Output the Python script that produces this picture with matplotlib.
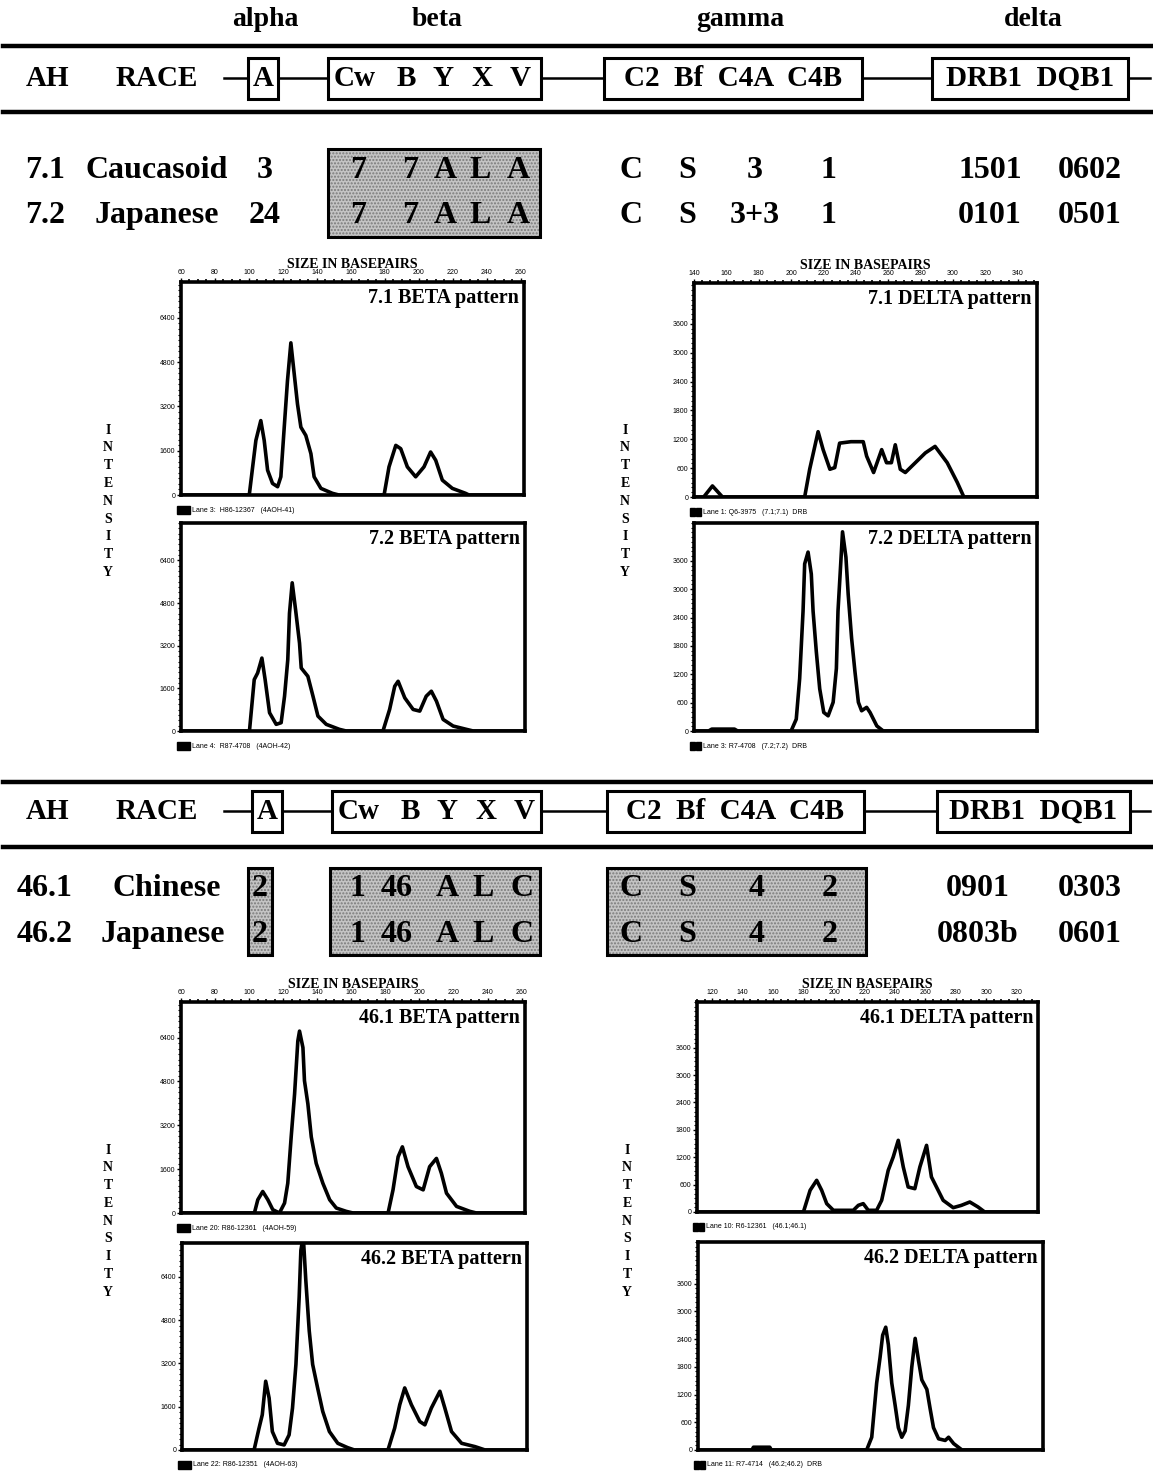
import numpy as np
import matplotlib.pyplot as plt
from matplotlib.patches import Rectangle
from matplotlib.ticker import MultipleLocator

plt.rcParams['font.family'] = ['Liberation Serif', 'DejaVu Serif']
plt.rcParams['font.weight'] = 'bold'

W, H = 1153, 1474

# ---------------- electropherogram traces (size in bp, intensity) ----------------
beta71_bp = [60, 100.2, 102.2, 104.1, 107, 109, 111, 113.9, 116.9, 118.8, 120.8, 122.7, 124.7,
             126.7, 128.6, 130.6, 133.5, 136.5, 138.4, 142.4, 149.2, 153, 179.6, 182.5, 186.5,
             189.4, 193.3, 198.2, 203.1, 207, 210, 213.9, 219.8, 227.6, 229.6, 262]
beta71_int = [0, 0, 1017, 1973, 2690, 1973, 897, 418, 299, 658, 2452, 4126, 5500,
              4365, 3289, 2452, 2153, 1495, 658, 239, 60, 0, 0, 1017, 1794,
              1674, 1017, 658, 1017, 1555, 1256, 538, 239, 60, 0, 0]

beta72_bp = [60, 100.2, 103, 105, 107.5, 109.4, 112, 115.9, 118.8, 120.8, 122.7, 123.7, 125.3,
             127.3, 129.6, 130.6, 134.5, 137.5, 140.4, 145.3, 153, 157, 178.6, 182.5, 185.5,
             187.5, 191.4, 196.3, 200.2, 204, 207, 210, 213.9, 219.8, 227.6, 231.6, 262]
beta72_int = [0, 0, 1927, 2175, 2735, 1927, 684, 249, 311, 1305, 2672, 4413, 5556,
              4537, 3294, 2362, 2051, 1305, 560, 249, 62, 0, 0, 808, 1678,
              1865, 1243, 808, 746, 1305, 1492, 1119, 435, 186, 62, 0, 0]

delta71_bp = [140, 146, 151.4, 157.6, 208.4, 211.5, 216.7, 219.8, 224, 227, 230, 237, 244.6,
              246.7, 251, 256, 259, 262, 264.4, 267.5, 270.6, 276.8, 283, 289, 296.5,
              302.7, 306.8, 352]
delta71_int = [0, 0, 230, 0, 0, 577, 1358, 985, 577, 611, 1120, 1150, 1150,
               850, 509, 985, 713, 713, 1086, 577, 509, 713, 917, 1052, 713,
               305, 0, 0]

delta72_bp = [140, 149, 151, 165, 167, 200, 203.2, 205.3, 207.4, 208.4, 210.5, 212.5, 213.6,
              215.6, 217.7, 220.2, 222.9, 226, 228, 229, 230.2, 231.8, 233.9, 235.3, 237.4,
              239.5, 241.6, 243.6, 246.7, 248.8, 253, 257, 352]
delta72_int = [0, 0, 40, 40, 0, 0, 250, 1107, 2535, 3535, 3785, 3320, 2535,
               1678, 893, 393, 321, 607, 1321, 2535, 3250, 4213, 3677, 2892, 1964,
               1250, 607, 428, 500, 393, 107, 0, 0]

beta461_bp = [60, 103.1, 105.1, 108, 111, 113.9, 117.8, 120.8, 122.7, 124.7, 126.7, 128.6, 129.6,
              131.6, 132.5, 134.5, 136.5, 139.4, 143.3, 147.3, 151.2, 157, 161, 181.6, 184.5,
              187.5, 190, 193.3, 198.2, 202.2, 206, 210, 212.9, 215.9, 221.8, 229.6, 233.5, 262]
beta461_int = [0, 0, 483, 785, 483, 121, 0, 362, 1086, 2776, 4345, 6276, 6638,
               6035, 4828, 3983, 2776, 1810, 1086, 483, 181, 60, 0, 0, 845,
               2052, 2414, 1690, 966, 845, 1690, 1992, 1448, 724, 241, 60, 0, 0]

beta462_bp = [60, 102.2, 105.1, 107, 109, 111, 112.9, 115.9, 119.8, 122.7, 124.7, 126.7, 128.6,
              129.6, 131, 132.5, 134.5, 136.5, 139.4, 142.4, 146.3, 151.2, 157, 161, 180.6,
              184.5, 187.5, 190.4, 194.3, 199.2, 202.2, 206, 211, 213.9, 217.8, 223.7, 231.6,
              237.5, 262]
beta462_int = [0, 0, 806, 1302, 2542, 1922, 682, 248, 186, 558, 1550, 3162, 5642,
               7378, 7900, 6262, 4402, 3162, 2294, 1426, 682, 248, 87, 0, 0,
               806, 1674, 2294, 1674, 1054, 930, 1550, 2170, 1550, 682, 248, 124,
               0, 0]

delta461_bp = [110, 179.9, 184.3, 188.6, 191.9, 195.2, 199.6, 212.7, 216, 219.2, 222.5, 228,
               231.3, 235.6, 238.9, 242.2, 245.5, 248.7, 253.1, 256.4, 260.8, 264, 267.3,
               271.7, 278.3, 283.7, 289.2, 294.6, 299, 334]
delta461_int = [0, 0, 475, 694, 475, 183, 37, 37, 146, 183, 37, 37,
                256, 912, 1205, 1570, 986, 548, 511, 986, 1460, 767, 548,
                256, 95, 146, 219, 110, 0, 0]

delta462_bp = [110, 145, 146, 156.6, 157.6, 219.5, 222.8, 226, 228.2, 229.9, 231.9, 233.6, 235.8,
               238, 240.1, 242.3, 244.5, 246.6, 248.8, 251, 253.2, 255.3, 258.6, 260.7, 262.9,
               266.2, 270.5, 272.7, 276, 281.4, 334]
delta462_int = [0, 0, 60, 60, 0, 0, 276, 1449, 2000, 2484, 2657, 2277, 1449,
                966, 483, 276, 414, 966, 1794, 2415, 1932, 1518, 1311, 897, 483,
                242, 207, 276, 138, 0, 0]

beta_ticks = [0, 1600, 3200, 4800, 6400]
delta_ticks = [0, 600, 1200, 1800, 2400, 3000, 3600]
beta_genes = ['Cw', 'B', 'Y', 'X', 'V']

fig = plt.figure(figsize=(W / 100, H / 100), dpi=100)
ax0 = fig.add_axes([0, 0, 1, 1])
ax0.set_xlim(0, W)
ax0.set_ylim(H, 0)
ax0.axis('off')


def txt(x, y, s, size, **kw):
    ax0.text(x, y, s, fontsize=size, fontweight='bold', ha='center', va='center', **kw)


def box(x0, y0, x1, y1, shaded=False, lw=2.2):
    if shaded:
        ax0.add_patch(Rectangle((x0, y0), x1 - x0, y1 - y0, facecolor='#c4c4c4', edgecolor='none'))
        ax0.add_patch(Rectangle((x0, y0), x1 - x0, y1 - y0, facecolor='none', edgecolor='#7a7a7a',
                                hatch='.....', lw=0))
    ax0.add_patch(Rectangle((x0, y0), x1 - x0, y1 - y0, facecolor='none', edgecolor='k', lw=lw))


def header(y_top, y_mid, y_bot, boxes):
    ax0.plot([3, 1153], [y_top, y_top], color='k', lw=3.2)
    ax0.plot([3, 1153], [y_bot, y_bot], color='k', lw=3.2)
    txt(48, y_mid, 'AH', 21)
    txt(157, y_mid, 'RACE', 21)
    xs = [224]
    for (x0, x1, label) in boxes:
        box(x0, y_mid - 20, x1, y_mid + 21)
        if isinstance(label, list):
            for dx, s in zip([27, 78, 115, 154, 192], label):
                txt(x0 + dx, y_mid, s, 21)
        else:
            txt((x0 + x1) / 2, y_mid, label, 21)
        xs += [x0, x1]
    xs.append(1150)
    for i in range(0, len(xs), 2):
        ax0.plot([xs[i], xs[i + 1]], [y_mid, y_mid], color='k', lw=1.8)


# ---------------- top header ----------------
for x, s in [(265, 'alpha'), (437, 'beta'), (740, 'gamma'), (1033, 'delta')]:
    txt(x, 19, s, 20)

header(46, 78, 112, [(248, 278, 'A'), (328, 541, beta_genes),
                     (604, 862, 'C2  Bf  C4A  C4B'), (932, 1128, 'DRB1  DQB1')])

box(328, 149, 540, 237, shaded=True)
for y, ah, race, a, bvals, gvals, dvals in [
        (170, '7.1', 'Caucasoid', '3', ['7', '7', 'A', 'L', 'A'], ['C', 'S', '3', '1'], ['1501', '0602']),
        (215, '7.2', 'Japanese', '24', ['7', '7', 'A', 'L', 'A'], ['C', 'S', '3+3', '1'], ['0101', '0501'])]:
    txt(45, y, ah, 23)
    txt(157, y, race, 23)
    txt(265, y, a, 23)
    for x, s in zip([358, 410, 445, 480, 518], bvals):
        txt(x, y, s, 23)
    for x, s in zip([631, 687, 755, 828], gvals):
        txt(x, y, s, 23)
    for x, s in zip([990, 1090], dvals):
        txt(x, y, s, 23)

# ---------------- bottom header ----------------
header(782, 811, 847, [(252, 282, 'A'), (332, 541, beta_genes),
                       (607, 864, 'C2  Bf  C4A  C4B'), (937, 1130, 'DRB1  DQB1')])

box(248, 868, 272, 955, shaded=True)
box(330, 868, 540, 955, shaded=True)
box(607, 868, 866, 955, shaded=True)
for y, ah, race, a, bvals, gvals, dvals in [
        (888, '46.1', 'Chinese', '2', ['1', '46', 'A', 'L', 'C'], ['C', 'S', '4', '2'], ['0901', '0303']),
        (934, '46.2', 'Japanese', '2', ['1', '46', 'A', 'L', 'C'], ['C', 'S', '4', '2'], ['0803b', '0601'])]:
    txt(45, y, ah, 23)
    txt(167 if race == 'Chinese' else 163, y, race, 23)
    txt(260, y, a, 23)
    for x, s in zip([357, 397, 447, 483, 522], bvals):
        txt(x, y, s, 23)
    for x, s in zip([631, 687, 757, 830], gvals):
        txt(x, y, s, 23)
    for x, s in zip([978, 1090], dvals):
        txt(x, y, s, 23)

# INTENSITY labels
for x0, y0 in [(108, 430), (625, 430), (108, 1150), (627, 1150)]:
    for i, ch in enumerate('INTENSITY'):
        txt(x0, y0 + i * 17.8, ch, 10)


def panel(box_px, bp, inten, title, caption, xlim, ylim, yticks, ystep, top_ticks, lanebox):
    l, t, r, b = box_px
    ax = fig.add_axes([l / W, 1 - b / H, (r - l) / W, (b - t) / H])
    ax.plot(bp, inten, color='k', lw=2.6, clip_on=True, solid_joinstyle='round')
    ax.set_xlim(*xlim)
    ax.set_ylim(*ylim)
    for sp in ax.spines.values():
        sp.set_linewidth(2.6)
    ax.set_yticks(yticks)
    ax.set_yticklabels([str(v) for v in yticks])
    ax.yaxis.set_minor_locator(MultipleLocator(ystep))
    ax.tick_params(axis='y', which='major', length=3, width=1, labelsize=5, pad=1)
    ax.tick_params(axis='y', which='minor', length=2, width=0.8)
    if top_ticks is not None:
        ax.xaxis.tick_top()
        ax.set_xticks(top_ticks)
        ax.set_xticklabels([str(v) for v in top_ticks])
        ax.xaxis.set_minor_locator(MultipleLocator(5))
        ax.tick_params(axis='x', which='major', length=3, width=1, labelsize=5, pad=1)
        ax.tick_params(axis='x', which='minor', length=2, width=1.2)
        ax.xaxis.set_label_position('top')
        ax.set_xlabel('SIZE IN BASEPAIRS', fontsize=10, fontweight='bold', labelpad=1)
    else:
        ax.set_xticks([])
    for lab in ax.get_xticklabels() + ax.get_yticklabels():
        lab.set_family('Liberation Sans')
        lab.set_fontweight('normal')
    ax.text(1 - 5 / (r - l), 1 - 6 / (b - t), title, transform=ax.transAxes, ha='right', va='top',
            fontsize=14.5, fontweight='bold')
    yc = b + 15
    if lanebox == 1:
        ax0.add_patch(Rectangle((l - 4, yc - 4), 13, 8, color='k'))
        cx = l + 11
    else:
        ax0.add_patch(Rectangle((l - 4, yc - 4), 5, 8, color='k'))
        ax0.add_patch(Rectangle((l + 2, yc - 4), 5, 8, color='k'))
        cx = l + 9
    ax0.text(cx, yc, caption, fontsize=5, family='Liberation Sans', fontweight='normal',
             ha='left', va='center')
    return ax


beta_top = list(range(60, 261, 20))
panel((181, 282, 524, 495), beta71_bp, beta71_int, '7.1 BETA pattern',
      'Lane 3:  H86-12367   (4AOH-41)', (60, 262), (0, 7700), beta_ticks, 200, beta_top, 1)
panel((181, 523, 525, 731), beta72_bp, beta72_int, '7.2 BETA pattern',
      'Lane 4:  R87-4708   (4AOH-42)', (60, 262), (0, 7800), beta_ticks, 200, None, 1)
panel((694, 283, 1037, 497), delta71_bp, delta71_int, '7.1 DELTA pattern',
      'Lane 1: Q6-3975   (7.1;7.1)  DRB', (140, 352), (0, 4450), delta_ticks, 100,
      list(range(140, 341, 20)), 2)
panel((694, 523, 1037, 731), delta72_bp, delta72_int, '7.2 DELTA pattern',
      'Lane 3: R7-4708   (7.2;7.2)  DRB', (140, 352), (0, 4400), delta_ticks, 100, None, 2)
panel((181, 1002, 525, 1213), beta461_bp, beta461_int, '46.1 BETA pattern',
      'Lane 20: R86-12361   (4AOH-59)', (60, 262), (0, 7700), beta_ticks, 200, beta_top, 1)
panel((182, 1243, 527, 1450), beta462_bp, beta462_int, '46.2 BETA pattern',
      'Lane 22: R86-12351   (4AOH-63)', (60, 262), (0, 7650), beta_ticks, 200, None, 1)
panel((697, 1002, 1038, 1212), delta461_bp, delta461_int, '46.1 DELTA pattern',
      'Lane 10: R6-12361   (46.1;46.1)', (110, 334), (0, 4600), delta_ticks, 100,
      list(range(120, 321, 20)), 2)
panel((698, 1242, 1043, 1450), delta462_bp, delta462_int, '46.2 DELTA pattern',
      'Lane 11: R7-4714   (46.2;46.2)  DRB', (110, 334), (0, 4500), delta_ticks, 100, None, 2)

fig.savefig('out.png', dpi=100)
